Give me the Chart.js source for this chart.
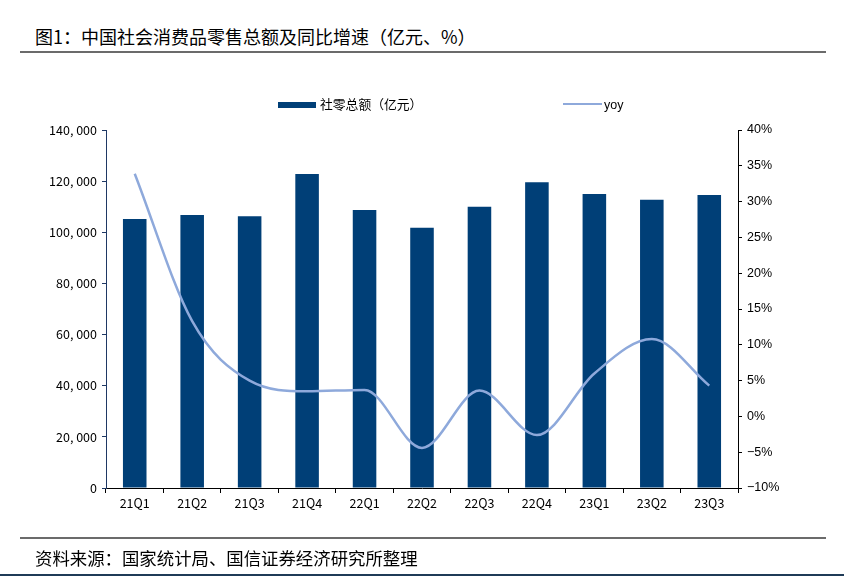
<!DOCTYPE html>
<html>
<head>
<meta charset="utf-8">
<script src="https://cdn.jsdelivr.net/npm/chart.js@4"></script>
<style>
  html, body { margin: 0; padding: 0; background: #fff; }
  #wrap { position: relative; width: 844px; height: 576px; overflow: hidden; background: #fff; }
  #c { position: absolute; left: 0; top: 0; }
  .title { position: absolute; left: 35px; top: 23px; font-family: "Noto Sans CJK SC", sans-serif; font-size: 18px; color: #000; white-space: nowrap; }
  .rule { position: absolute; left: 20px; width: 806px; height: 2px; background: #6b6b6b; }
  .src { position: absolute; left: 35px; top: 545px; font-family: "Noto Sans CJK SC", sans-serif; font-size: 17.4px; color: #000; white-space: nowrap; }
  .bottom { position: absolute; left: 0; top: 574px; width: 844px; height: 2px; background: #1f3b57; }
  .leg { position: absolute; font-family: "Noto Sans CJK SC", sans-serif; font-size: 12.8px; color: #000; white-space: nowrap; line-height: 16px; }
  .lg-bar { position: absolute; left: 278px; top: 102px; width: 38px; height: 6px; background: #003F77; }
  .lg-line { position: absolute; left: 563px; top: 103px; width: 39px; height: 2px; background: #8EA9DB; }
</style>
</head>
<body>
<div id="wrap">
  <div class="title">图1：中国社会消费品零售总额及同比增速（亿元、%）</div>
  <div class="rule" style="top:51px"></div>
  <canvas id="c" width="844" height="576"></canvas>
  <div class="lg-bar"></div>
  <div class="leg" style="left:320px;top:96px;">社零总额（亿元）</div>
  <div class="lg-line"></div>
  <div class="leg" style="left:604px;top:97px;font-family:'Liberation Sans',Arial,sans-serif;font-size:12.5px;">yoy</div>
  <div class="rule" style="top:537px"></div>
  <div class="src">资料来源：国家统计局、国信证券经济研究所整理</div>
  <div class="bottom"></div>
</div>
<script>
const categories = ['21Q1','21Q2','21Q3','21Q4','22Q1','22Q2','22Q3','22Q4','23Q1','23Q2','23Q3'];
const retailSales = [105221, 106760, 106250, 122790, 108715, 101790, 110010, 119550, 114970, 112750, 114580];
const yoy = [33.9, 13.3, 5.0, 3.5, 3.7, -4.4, 3.6, -2.6, 6.0, 10.8, 4.3];
const leftTicks = [0, 20000, 40000, 60000, 80000, 100000, 120000, 140000];
const rightTicks = [-10, -5, 0, 5, 10, 15, 20, 25, 30, 35, 40];

const tickFont = { family: '"Noto Sans CJK SC", "DejaVu Sans", sans-serif', size: 12.5 };

new Chart(document.getElementById('c'), {
  data: {
    labels: categories,
    datasets: [
      {
        type: 'line',
        label: 'yoy',
        data: yoy,
        yAxisID: 'y1',
        borderColor: '#8EA9DB',
        backgroundColor: '#8EA9DB',
        borderWidth: 2.5,
        pointRadius: 0,
        cubicInterpolationMode: 'monotone',
        tension: 0.4,
        order: 0
      },
      {
        type: 'bar',
        label: '社零总额（亿元）',
        data: retailSales,
        yAxisID: 'y',
        backgroundColor: '#003F77',
        barPercentage: 0.41,
        categoryPercentage: 1.0,
        order: 1
      }
    ]
  },
  options: {
    responsive: false,
    animation: false,
    devicePixelRatio: 1,
    layout: { padding: { left: 20, right: 40, top: 130, bottom: 0 } },
    plugins: { legend: { display: false }, tooltip: { enabled: false } },
    scales: {
      x: {
        offset: true,
        grid: { display: true, drawOnChartArea: false, offset: true, tickLength: 5, color: '#000', tickWidth: 1 },
        border: { display: true, color: '#000', width: 1 },
        ticks: { color: '#000', font: tickFont, padding: 3, maxRotation: 0 },
        afterFit: s => { s.height = 88; }
      },
      y: {
        position: 'left',
        min: 0, max: 140000,
        afterBuildTicks: s => { s.ticks = leftTicks.map(v => ({ value: v })); },
        grid: { display: true, drawOnChartArea: false, tickLength: 4, color: '#1f3864' },
        border: { display: true, color: '#1f3864', width: 1 },
        ticks: {
          color: '#000', font: tickFont, padding: 5,
          callback: v => v === 0 ? '0' : v.toLocaleString('en-US').replace(/,/g, ', ')
        },
        afterFit: s => { s.width = 86; }
      },
      y1: {
        position: 'right',
        min: -10, max: 40,
        afterBuildTicks: s => { s.ticks = rightTicks.map(v => ({ value: v })); },
        grid: { display: true, drawOnChartArea: false, tickLength: 4, color: '#000' },
        border: { display: true, color: '#000', width: 1 },
        ticks: {
          color: '#000', font: { family: '"Liberation Sans", Arial, sans-serif', size: 12.5 }, padding: 5,
          callback: v => (v < 0 ? '\u2212' + Math.abs(v) : v) + '%'
        },
        afterFit: s => { s.width = 66; }
      }
    }
  }
});
</script>
</body>
</html>
